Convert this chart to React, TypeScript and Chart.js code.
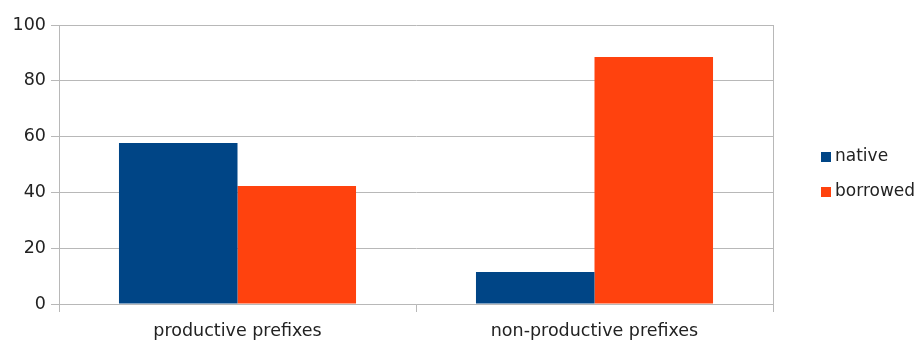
import React, { useEffect, useRef } from "react";
import { Chart, registerables } from "chart.js";

Chart.register(...registerables);

const categories = ["productive prefixes", "non-productive prefixes"];
const seriesNames = ["native", "borrowed"];
const nativeValues = [57.7, 11.5];
const borrowedValues = [42.3, 88.5];
const yMin = 0;
const yMax = 100;
const yStep = 20;

const FONT = "'DejaVu Sans', 'Liberation Sans', Arial, sans-serif";
const GRID = "#b8b8b8";
const TEXT = "#222222";

export default function App() {
  const ref = useRef<HTMLCanvasElement>(null);

  useEffect(() => {
    if (!ref.current) return;

    const sideLegend = {
      id: "sideLegend",
      afterDraw(chart: any) {
        const ctx = chart.ctx;
        const area = chart.chartArea;
        ctx.save();
        // right border of plot
        ctx.strokeStyle = GRID;
        ctx.lineWidth = 1;
        ctx.beginPath();
        ctx.moveTo(Math.round(area.right) + 0.5, area.top);
        ctx.lineTo(Math.round(area.right) + 0.5, area.bottom + 8);
        ctx.stroke();
        // legend
        const x = area.right + 48;
        const ys = [157, 192];
        ctx.font = `17px ${FONT}`;
        ctx.textBaseline = "middle";
        ctx.textAlign = "left";
        chart.data.datasets.forEach((ds: any, i: number) => {
          ctx.fillStyle = ds.backgroundColor;
          ctx.fillRect(x, ys[i] - 5, 10, 10);
          ctx.fillStyle = TEXT;
          ctx.fillText(ds.label, x + 14, ys[i]);
        });
        ctx.restore();
      },
    };

    const chart = new Chart(ref.current, {
      type: "bar",
      data: {
        labels: categories,
        datasets: [
          {
            label: seriesNames[0],
            data: nativeValues,
            backgroundColor: "#004586",
            categoryPercentage: 0.664,
            barPercentage: 1,
          },
          {
            label: seriesNames[1],
            data: borrowedValues,
            backgroundColor: "#ff420e",
            categoryPercentage: 0.664,
            barPercentage: 1,
          },
        ],
      },
      options: {
        animation: false,
        responsive: true,
        maintainAspectRatio: false,
        layout: { padding: { top: 25, right: 151, left: 0, bottom: 0 } },
        plugins: {
          legend: { display: false },
          tooltip: { enabled: false },
        },
        scales: {
          x: {
            grid: {
              offset: true,
              drawOnChartArea: false,
              tickLength: 8,
              color: GRID,
            },
            border: { color: GRID },
            ticks: {
              color: TEXT,
              font: { family: FONT, size: 17.5 },
              padding: 9,
            },
            afterFit: (s: any) => {
              s.height = 38;
            },
          },
          y: {
            min: yMin,
            max: yMax,
            ticks: {
              stepSize: yStep,
              color: TEXT,
              font: { family: FONT, size: 17.5 },
              padding: 5,
            },
            grid: { color: GRID, tickLength: 8 },
            border: { color: GRID },
            afterFit: (s: any) => {
              s.width = 59;
            },
          },
        },
      },
      plugins: [sideLegend],
    });

    return () => chart.destroy();
  }, []);

  return (
    <div
      style={{
        position: "absolute",
        left: 0,
        top: 0,
        width: 924,
        height: 342,
        background: "#ffffff",
      }}
    >
      <canvas ref={ref} />
    </div>
  );
}
